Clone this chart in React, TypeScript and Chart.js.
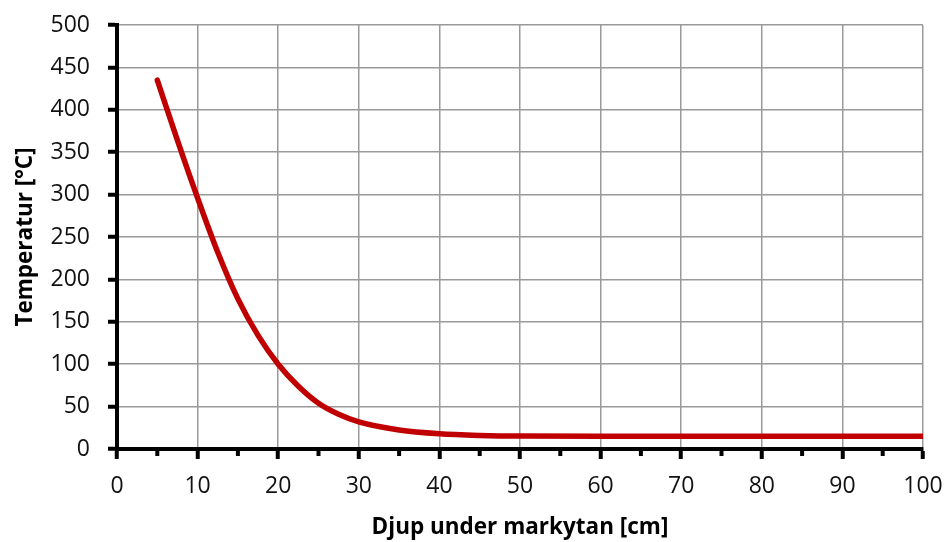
import React, { useEffect, useRef } from "react";
import { Chart, registerables } from "chart.js";

Chart.register(...registerables);

// Depth below ground surface (cm) and the temperature profile (°C)
const depthCm = [5, 7.5, 10, 12.5, 15, 17.5, 20, 22.5, 25, 27.5, 30, 35, 40, 45, 50, 60, 70, 80, 90, 100];
const temperatureC = [435, 364, 296, 232, 177, 134, 100, 74, 54, 41, 32, 22.5, 18, 16, 15.2, 15, 15, 15, 15, 15];

const xTitle = "Djup under markytan [cm]";
const yTitle = "Temperatur [°C]";

const FONT = "'Open Sans', 'DejaVu Sans', sans-serif";

// Short minor tick marks halfway between the labelled x ticks
const minorTicks = {
  id: "minorTicks",
  afterDraw(chart: any) {
    const x = chart.scales.x;
    const { ctx, chartArea } = chart;
    ctx.save();
    ctx.strokeStyle = "#000";
    ctx.lineWidth = 4;
    for (let v = x.min + 5; v < x.max; v += 10) {
      const px = x.getPixelForValue(v);
      ctx.beginPath();
      ctx.moveTo(px, chartArea.bottom);
      ctx.lineTo(px, chartArea.bottom + 7);
      ctx.stroke();
    }
    ctx.restore();
  },
};

export default function App() {
  const ref = useRef<HTMLCanvasElement | null>(null);

  useEffect(() => {
    document.body.style.margin = "0";
    const canvas = ref.current;
    if (!canvas) return;
    const chart = new Chart(canvas, {
      type: "scatter",
      data: {
        datasets: [
          {
            data: depthCm.map((d, i) => ({ x: d, y: temperatureC[i] })),
            showLine: true,
            borderColor: "#c00000",
            borderWidth: 5.5,
            borderCapStyle: "round",
            cubicInterpolationMode: "monotone",
            pointRadius: 0,
            pointHoverRadius: 0,
          },
        ],
      },
      options: {
        animation: false,
        responsive: false,
        devicePixelRatio: 1,
        layout: { padding: { left: 0, right: 25, top: 25, bottom: 0 } },
        plugins: { legend: { display: false }, tooltip: { enabled: false } },
        scales: {
          x: {
            type: "linear",
            min: 0,
            max: 100,
            afterFit(scale: any) {
              scale.height = 93;
              scale.paddingLeft = 0;
              scale.paddingRight = 0;
            },
            ticks: {
              stepSize: 10,
              color: "#111",
              padding: 14,
              font: { family: FONT, size: 23 },
              maxRotation: 0,
            },
            grid: {
              color: "#9a9a9a",
              lineWidth: 1.5,
              tickColor: "#000",
              tickWidth: 4,
              tickLength: 10,
            },
            border: { color: "#000", width: 4 },
            title: {
              display: true,
              text: xTitle,
              color: "#000",
              font: { family: FONT, size: 22.5, weight: "bold" },
              padding: { top: 0, bottom: 1 },
            },
          },
          y: {
            type: "linear",
            min: 0,
            max: 500,
            afterFit(scale: any) {
              scale.width = 117;
              scale.paddingTop = 0;
              scale.paddingBottom = 0;
            },
            ticks: {
              stepSize: 50,
              color: "#111",
              padding: 18,
              font: { family: FONT, size: 23 },
            },
            grid: {
              color: "#9a9a9a",
              lineWidth: 1.5,
              tickColor: "#000",
              tickWidth: 4,
              tickLength: 9,
            },
            border: { color: "#000", width: 4 },
            title: {
              display: true,
              text: yTitle,
              color: "#000",
              font: { family: FONT, size: 22.5, weight: "bold" },
              padding: { top: 12, bottom: 0 },
            },
          },
        },
      },
      plugins: [minorTicks],
    } as any);
    return () => chart.destroy();
  }, []);

  return (
    <div style={{ width: 948, height: 542, background: "#fff" }}>
      <canvas ref={ref} width={948} height={542} />
    </div>
  );
}
